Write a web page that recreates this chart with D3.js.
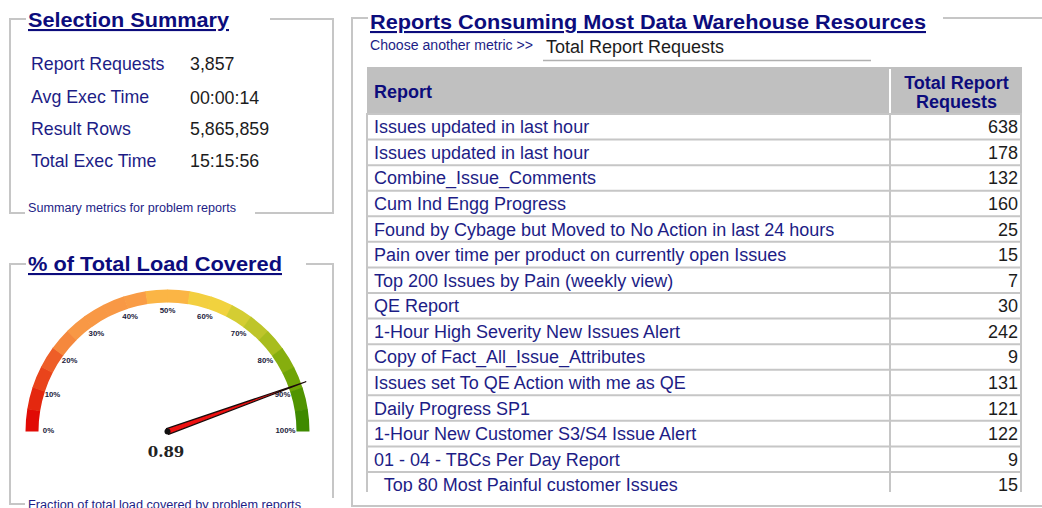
<!DOCTYPE html>
<html><head><meta charset="utf-8">
<script src="https://cdn.jsdelivr.net/npm/d3@7"></script>
<style>
html,body{margin:0;padding:0;background:#fff;overflow:hidden;}
svg{display:block;font-family:"Liberation Sans",Arial,sans-serif;}
</style></head><body>
<svg id="c" width="1042" height="508"></svg>
<script>
// ---------- data ----------
const summaryLabels = ["Report Requests", "Avg Exec Time", "Result Rows", "Total Exec Time"];
const summaryValues = ["3,857", "00:00:14", "5,865,859", "15:15:56"];

const gaugeValue = 0.89;
const gaugeTicks = [0, 0.1, 0.2, 0.3, 0.4, 0.5, 0.6, 0.7, 0.8, 0.9, 1.0];
const gaugeTickLabels = ["0%", "10%", "20%", "30%", "40%", "50%", "60%", "70%", "80%", "90%", "100%"];
const gaugeBandColors = ["#e10a05", "#e4280f", "#e9441b", "#ee5e28", "#f5883d",
                         "#f89845", "#f89845", "#f89845", "#f99c46", "#fbb545",
                         "#fbb545", "#f3cf40", "#f1d23e", "#d4cd33", "#bec52a",
                         "#a8bd1e", "#86ae0e", "#6fa406", "#509400", "#3e8a00"];

const reportNames = [
  "Issues updated in last hour",
  "Issues updated in last hour",
  "Combine_Issue_Comments",
  "Cum Ind Engg Progress",
  "Found by Cybage but Moved to No Action in last 24 hours",
  "Pain over time per product on currently open Issues",
  "Top 200 Issues by Pain (weekly view)",
  "QE Report",
  "1-Hour High Severity New Issues Alert",
  "Copy of Fact_All_Issue_Attributes",
  "Issues set To QE Action with me as QE",
  "Daily Progress SP1",
  "1-Hour New Customer S3/S4 Issue Alert",
  "01 - 04 - TBCs Per Day Report",
  "  Top 80 Most Painful customer Issues"
];
const reportRequests = [638, 178, 132, 160, 25, 15, 7, 30, 242, 9, 131, 121, 122, 9, 15];

const tableColumns = ["Report", "Total Report|Requests"];
const metricLabel = "Choose another metric >>";
const metricValue = "Total Report Requests";

// ---------- styles ----------
const NAVY = "#0c0c7c", BODY = "#1d1d86", DARK = "#1c1c1c", BORDER = "#c6c6c6";
const svg = d3.select("#c");

function fitText(sel, w) {
  sel.attr("textLength", w).attr("lengthAdjust", "spacingAndGlyphs");
}
function line(x1, y1, x2, y2, col, w) {
  svg.append("line").attr("x1", x1).attr("y1", y1).attr("x2", x2).attr("y2", y2)
    .attr("stroke", col || BORDER).attr("stroke-width", w || 2);
}
function title(x, y, txt, w) {
  svg.append("text").attr("x", x).attr("y", y).text(txt)
    .attr("font-size", 21).attr("font-weight", "bold").attr("fill", NAVY)
    .style("text-decoration", "underline").call(fitText, w);
}

// ---------- panel 1 : Selection Summary ----------
line(10, 19, 26, 19); line(270, 19, 334, 19);
line(10, 18, 10, 214); line(333, 18, 333, 214);
line(10, 213, 25, 213); line(255, 213, 334, 213);
title(28, 27, "Selection Summary", 201);

const sumY = d3.scalePoint().domain(d3.range(summaryLabels.length)).range([64, 161]);
svg.append("g").selectAll("text").data(summaryLabels).join("text")
  .attr("x", 31).attr("y", (d, i) => sumY(i) + 6.3)
  .attr("font-size", 17.8).attr("fill", BODY).text(d => d);
svg.append("g").selectAll("text").data(summaryValues).join("text")
  .attr("x", 190).attr("y", (d, i) => sumY(i) + 6.3 + (i === 1 ? 1.5 : 0))
  .attr("font-size", 17.8).attr("fill", DARK).text(d => d);
svg.append("text").attr("x", 28).attr("y", 212).attr("font-size", 12.5).attr("fill", BODY)
  .text("Summary metrics for problem reports").call(fitText, 208);

// ---------- panel 2 : gauge ----------
line(10, 264, 26, 264); line(306, 264, 334, 264);
line(10, 263, 10, 505); line(333, 263, 333, 498);
line(10, 504, 25, 504);
title(28, 271, "% of Total Load Covered", 254);

const cx = 167.5, cy = 431.5, rIn = 129, rOut = 142;
const ang = d3.scaleLinear().domain([0, 1]).range([-Math.PI / 2, Math.PI / 2]);
const g = svg.append("g").attr("transform", `translate(${cx},${cy})`);
const step = 1 / gaugeBandColors.length;
const arc = d3.arc().innerRadius(rIn).outerRadius(rOut);
g.selectAll("path.band").data(gaugeBandColors).join("path").attr("class", "band")
  .attr("d", (d, i) => arc({ startAngle: ang(i * step), endAngle: ang((i + 1) * step) + (i < gaugeBandColors.length - 1 ? 0.004 : 0) }))
  .attr("fill", d => d);

const rLab = 121;
g.selectAll("text.tick").data(gaugeTicks).join("text").attr("class", "tick")
  .attr("x", d => rLab * Math.sin(ang(d)) + (d === 0 ? 2 : d === 1 ? -3 : 0))
  .attr("y", d => -rLab * Math.cos(ang(d)) + 2.7 - (d === 0 || d === 1 ? 1 : 0))
  .attr("text-anchor", "middle").attr("font-size", 7.8).attr("fill", "#20203a")
  .attr("font-weight", "bold")
  .text((d, i) => gaugeTickLabels[i]);

// needle
const a = ang(gaugeValue), rTip = 147, hw = 3;
const tip = [rTip * Math.sin(a), -rTip * Math.cos(a)];
const px = Math.cos(a) * hw, py = Math.sin(a) * hw;
g.append("path")
  .attr("d", `M${-px},${-py} L${tip[0]},${tip[1]} L${px},${py} Z`)
  .attr("fill", "#ee1111").attr("stroke", "#1a0a0a").attr("stroke-width", 1.2)
  .attr("stroke-linejoin", "round");
g.append("circle").attr("r", 3).attr("fill", "#111");
svg.append("text").attr("x", 166).attr("y", 457).attr("text-anchor", "middle")
  .attr("font-family", "'DejaVu Serif', serif").attr("font-weight", "bold")
  .attr("font-size", 15).attr("fill", "#222").text(d3.format(".2f")(gaugeValue));
svg.append("text").attr("x", 28).attr("y", 509).attr("font-size", 12.5).attr("fill", BODY)
  .text("Fraction of total load covered by problem reports").call(fitText, 273);

// ---------- panel 3 : table ----------
line(352, 18, 368, 18); line(943, 18, 1042, 18);
line(352, 17, 352, 507); line(351, 506, 1042, 506);
title(370, 29, "Reports Consuming Most Data Warehouse Resources", 556);
svg.append("text").attr("x", 370).attr("y", 50).attr("font-size", 14).attr("fill", BODY)
  .text(metricLabel).call(fitText, 163);
svg.append("text").attr("x", 546).attr("y", 53).attr("font-size", 18).attr("fill", DARK)
  .text(metricValue);
line(543, 60.5, 871, 60.5, "#b0b0b0", 1.5);

const xL = 367, xM = 890, xR = 1021;
const headTop = 67, headBot = 113.5;
svg.append("rect").attr("x", xL).attr("y", headTop).attr("width", xR - xL + 1).attr("height", headBot - headTop)
  .attr("fill", "#c0c0c0");
line(xM, headTop + 2, xM, headBot, "#ffffff", 2);
svg.append("text").attr("x", 374).attr("y", 97.5).attr("font-size", 18).attr("font-weight", "bold")
  .attr("fill", NAVY).text(tableColumns[0]);
const hdr = svg.append("text").attr("text-anchor", "middle").attr("font-size", 18)
  .attr("font-weight", "bold").attr("fill", NAVY);
tableColumns[1].split("|").forEach((t, i) =>
  hdr.append("tspan").attr("x", 956.5).attr("y", 88.5 + i * 19).text(t));

const clip = svg.append("clipPath").attr("id", "tc");
clip.append("rect").attr("x", 355).attr("y", 60).attr("width", 680).attr("height", 432);
const tb = svg.append("g").attr("clip-path", "url(#tc)");
const rowH = 25.57;
const y = d3.scaleBand().domain(d3.range(reportNames.length))
  .range([114, 114 + reportNames.length * rowH]);

tb.selectAll("rect.row").data(reportNames).join("rect").attr("class", "row")
  .attr("x", xL).attr("y", (d, i) => y(i)).attr("width", xR - xL).attr("height", rowH).attr("fill", "#fff");
tb.selectAll("line.h").data(d3.range(reportNames.length + 1)).join("line").attr("class", "h")
  .attr("x1", xL).attr("x2", xR + 1).attr("y1", i => y(0) + i * rowH).attr("y2", i => y(0) + i * rowH)
  .attr("stroke", BORDER).attr("stroke-width", 2);
[xL, xM, xR].forEach(x => tb.append("line").attr("x1", x).attr("x2", x)
  .attr("y1", 113).attr("y2", 510).attr("stroke", BORDER).attr("stroke-width", 2));

tb.selectAll("text.name").data(reportNames).join("text").attr("class", "name")
  .attr("x", 374).attr("y", (d, i) => y(i) + rowH / 2 + 6.5)
  .attr("font-size", 18).attr("fill", BODY).style("white-space", "pre").text(d => d);
tb.selectAll("text.val").data(reportRequests).join("text").attr("class", "val")
  .attr("x", 1018).attr("y", (d, i) => y(i) + rowH / 2 + 6.5).attr("text-anchor", "end")
  .attr("font-size", 18).attr("fill", DARK).text(d => d3.format(",")(d));
</script>
</body></html>
